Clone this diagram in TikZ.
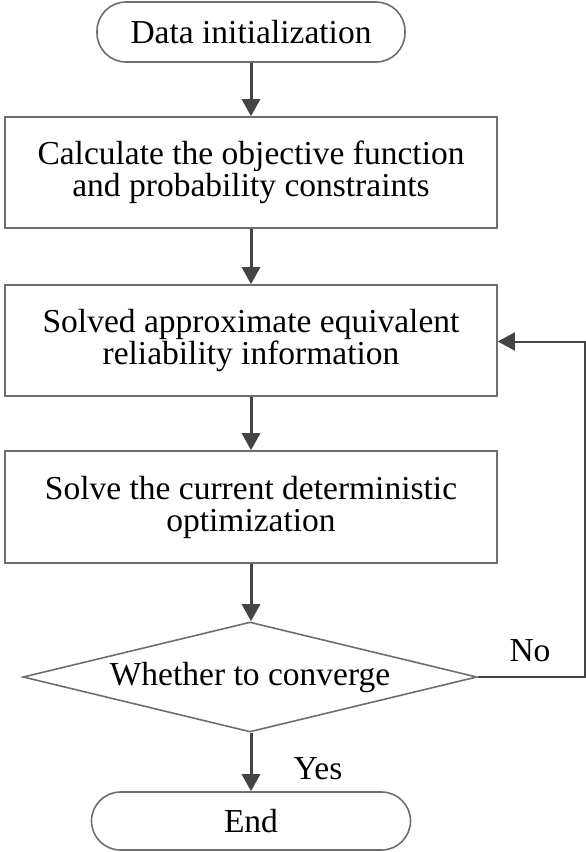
\documentclass[tikz,border=0pt]{standalone}
\usepackage{fontspec}
\setmainfont{Liberation Serif}
\usetikzlibrary{shapes.geometric,arrows.meta}
\definecolor{boxline}{HTML}{6E6E6E}
\definecolor{arrowline}{HTML}{444444}
\tikzset{
  txt/.style={font=\fontsize{33.5}{32}\selectfont},
  term/.style={draw=boxline, line width=1.6pt, rectangle, rounded corners=29pt, minimum height=60pt, align=center, txt},
  procbox/.style={draw=boxline, line width=1.6pt, rectangle, minimum width=492pt, minimum height=111pt, align=center, txt},
  decis/.style={draw=boxline, line width=1.6pt, diamond, aspect=4.13, minimum width=454pt, minimum height=110pt, inner sep=0pt, txt},
  flowarrow/.style={draw=arrowline, line width=3pt, -{Triangle[length=17pt,width=18pt]}},
  loopline/.style={draw=boxline, line width=2pt, -{Triangle[length=17pt,width=18pt]}}
}
\begin{document}
\begin{tikzpicture}[x=1pt,y=1pt]
\useasboundingbox (0,0) rectangle (586,-852);
\node[term, minimum width=308pt] (start) at (251,-32) {Data initialization};
\node[procbox] (b1) at (251,-172.5) {Calculate the objective function\\and probability constraints};
\node[procbox] (b2) at (251,-340.5) {Solved approximate equivalent\\reliability information};
\node[procbox, minimum height=112pt] (b3) at (251,-507) {Solve the current deterministic\\optimization};
\node[decis] (dec) at (250,-677) {Whether to converge};
\node[term, minimum width=319pt, minimum height=58pt] (end) at (251,-821) {End};
\coordinate (cr) at (585,-677);
\coordinate (ct) at (585,-341.5);
\draw[flowarrow] (start.south) -- (b1.north);
\draw[flowarrow] (b1.south) -- (b2.north);
\draw[flowarrow] (b2.south) -- (b3.north);
\draw[flowarrow] (b3.south) -- (b3.south |- dec.north);
\draw[flowarrow] (end.north |- dec.south) -- (end.north);
\draw[loopline, arrowline] (dec.east) -- (cr) -- (ct) -- (b2.east |- ct);
\node[txt] (no) at (530,-651) {No};
\node[txt] (yes) at (318,-769) {Yes};
\end{tikzpicture}
\end{document}
